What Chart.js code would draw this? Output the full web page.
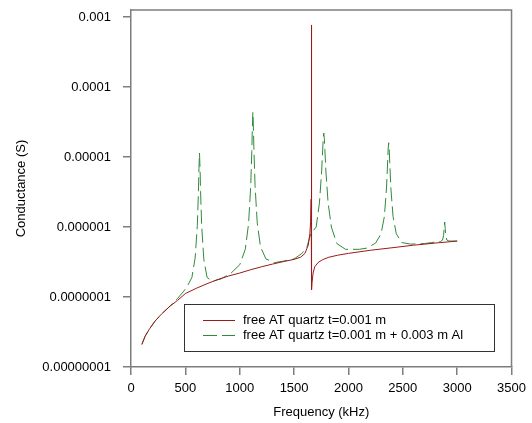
<!DOCTYPE html>
<html>
<head>
<meta charset="utf-8">
<script src="https://cdn.jsdelivr.net/npm/chart.js@4"></script>
<style>
  html, body { margin: 0; padding: 0; background: #ffffff; }
  #wrap { width: 532px; height: 423px; position: relative; }
</style>
</head>
<body>
<div id="wrap"><canvas id="c" width="532" height="423"></canvas></div>
<script>
// ---- data ----
const seriesNames = ["free AT quartz t=0.001 m", "free AT quartz t=0.001 m + 0.003 m Al"];

const quartzFreq = [100, 130, 170, 220, 280, 350, 430, 500, 600, 700, 800, 900, 1000, 1100, 1200, 1300, 1400, 1500, 1560, 1600, 1630, 1645, 1652, 1657, 1660, 1661, 1665, 1675, 1690, 1720, 1760, 1820, 1900, 2000, 2200, 2400, 2600, 2800, 3000];
const quartzG = [2.1e-8, 2.75e-8, 3.5e-8, 4.5e-8, 5.7e-8, 7.2e-8, 9.0e-8, 1.12e-7, 1.33e-7, 1.55e-7, 1.78e-7, 2.0e-7, 2.2e-7, 2.45e-7, 2.7e-7, 2.95e-7, 3.2e-7, 3.45e-7, 3.7e-7, 4.2e-7, 5.5e-7, 8.0e-7, 1.2e-6, 2.5e-6, 7.7e-4, 1.26e-7, 1.6e-7, 2.2e-7, 2.7e-7, 3.1e-7, 3.4e-7, 3.7e-7, 3.95e-7, 4.2e-7, 4.65e-7, 5.05e-7, 5.5e-7, 5.9e-7, 6.3e-7];

const alFreq = [100, 130, 170, 220, 280, 350, 430, 510, 560, 590, 610, 620, 625, 630, 635, 640, 650, 670, 700, 750, 830, 921, 1001, 1051, 1081, 1101, 1111, 1116, 1121, 1126, 1131, 1141, 1161, 1191, 1241, 1321, 1400, 1500, 1573, 1620, 1653, 1680, 1703, 1733, 1753, 1763, 1768, 1773, 1778, 1783, 1793, 1813, 1843, 1893, 1973, 2100, 2170, 2250, 2300, 2330, 2350, 2360, 2365, 2370, 2375, 2380, 2390, 2410, 2440, 2490, 2570, 2700, 2765, 2845, 2865, 2875, 2880, 2885, 2890, 2895, 2905, 2925, 3000];
const alG = [2.1e-8, 2.75e-8, 3.5e-8, 4.5e-8, 5.7e-8, 7.2e-8, 9.6e-8, 1.35e-7, 1.9e-7, 3.6e-7, 1.05e-6, 3.1e-6, 6.8e-6, 1.14e-5, 6.9e-6, 3.2e-6, 1.05e-6, 3.4e-7, 1.9e-7, 1.68e-7, 1.82e-7, 2.2e-7, 2.9e-7, 4.8e-7, 1.1e-6, 3.8e-6, 1.2e-5, 2.6e-5, 4.4e-5, 2.6e-5, 1.2e-5, 3.9e-6, 1.15e-6, 5.2e-7, 3.5e-7, 3.1e-7, 3.25e-7, 3.5e-7, 4.2e-7, 5.3e-7, 8.0e-7, 9.0e-7, 1.0e-6, 2.2e-6, 6.1e-6, 1.27e-5, 1.84e-5, 2.2e-5, 1.84e-5, 1.28e-5, 6.1e-6, 2.2e-6, 1.0e-6, 5.8e-7, 4.8e-7, 4.8e-7, 5.0e-7, 5.9e-7, 8.0e-7, 1.4e-6, 3.6e-6, 8.25e-6, 1.29e-5, 1.6e-5, 1.29e-5, 8.3e-6, 3.6e-6, 1.42e-6, 8.0e-7, 6.0e-7, 5.7e-7, 5.8e-7, 6.0e-7, 6.2e-7, 6.5e-7, 7.6e-7, 9.5e-7, 1.18e-6, 9.5e-7, 7.6e-7, 6.5e-7, 6.3e-7, 6.3e-7];

const yTickValues = [1e-8, 1e-7, 1e-6, 1e-5, 1e-4, 1e-3];
const yTickLabels = ["0.00000001", "0.0000001", "0.000001", "0.00001", "0.0001", "0.001"];
const xTickLabels = ["0", "500", "1000", "1500", "2000", "2500", "3000", "3500"];

// ---- chart ----
const FONT = "'Liberation Sans', Arial, sans-serif";
const AXIS_GREY = '#7d7d7d';
const RED = '#991a1a';
const GREEN = '#2f8a3a';

function zip(xs, ys) { return xs.map((x, i) => ({ x: x, y: ys[i] })); }

const boxAndLegend = {
  id: 'boxAndLegend',
  afterDraw(chart) {
    const { ctx, chartArea: a } = chart;
    ctx.save();
    ctx.strokeStyle = AXIS_GREY;
    ctx.lineWidth = 1.5;
    ctx.beginPath();
    ctx.moveTo(a.left, a.top);
    ctx.lineTo(a.right, a.top);
    ctx.lineTo(a.right, a.bottom);
    ctx.stroke();
    const lx = 184, ly = 304, lw = 310, lh = 47;
    ctx.fillStyle = '#ffffff';
    ctx.fillRect(lx, ly, lw, lh);
    ctx.strokeStyle = '#333333';
    ctx.lineWidth = 1;
    ctx.strokeRect(lx + 0.5, ly + 0.5, lw, lh);
    const rows = [
      { y: 320, color: RED, dash: [] },
      { y: 335, color: GREEN, dash: [14, 5] }
    ];
    ctx.font = '13px ' + FONT;
    ctx.textBaseline = 'middle';
    ctx.textAlign = 'left';
    rows.forEach((r, i) => {
      ctx.strokeStyle = r.color;
      ctx.setLineDash(r.dash);
      ctx.lineWidth = 1;
      ctx.beginPath();
      ctx.moveTo(203, r.y + 0.5);
      ctx.lineTo(235, r.y + 0.5);
      ctx.stroke();
      ctx.setLineDash([]);
      ctx.fillStyle = '#000000';
      ctx.fillText(seriesNames[i], 243, r.y);
    });
    ctx.restore();
  }
};

new Chart(document.getElementById('c'), {
  type: 'line',
  data: {
    datasets: [
      { label: seriesNames[0], data: zip(quartzFreq, quartzG), borderColor: RED, borderWidth: 1, pointRadius: 0, tension: 0, fill: false },
      { label: seriesNames[1], data: zip(alFreq, alG), borderColor: GREEN, borderWidth: 1, borderDash: [14, 5], pointRadius: 0, tension: 0, fill: false }
    ]
  },
  options: {
    responsive: false,
    animation: false,
    devicePixelRatio: 1,
    layout: { padding: { left: 0, right: 20, top: 10, bottom: 0 } },
    plugins: { legend: { display: false }, tooltip: { enabled: false } },
    scales: {
      x: {
        type: 'linear',
        min: 0, max: 3500,
        afterFit(s) { s.height = 56; },
        ticks: {
          stepSize: 500,
          color: '#000000',
          font: { family: FONT, size: 13 },
          padding: 6,
          maxRotation: 0,
          callback: (v, i) => xTickLabels[i]
        },
        grid: { drawOnChartArea: false, drawTicks: true, tickLength: 8, color: AXIS_GREY, lineWidth: 1.5 },
        border: { display: true, color: AXIS_GREY, width: 1.5 },
        title: { display: true, text: 'Frequency (kHz)', color: '#000000', font: { family: FONT, size: 13 }, padding: { top: 0, bottom: 3 } }
      },
      y: {
        type: 'logarithmic',
        min: 1e-8, max: 0.00126,
        afterFit(s) { s.width = 131; s.paddingTop = 0; s.paddingBottom = 0; },
        afterBuildTicks(s) { s.ticks = yTickValues.map(v => ({ value: v })); },
        ticks: {
          color: '#000000',
          font: { family: FONT, size: 13 },
          padding: 12,
          callback: (v, i) => yTickLabels[i]
        },
        grid: { drawOnChartArea: false, drawTicks: true, tickLength: 8, color: AXIS_GREY, lineWidth: 1.5 },
        border: { display: true, color: AXIS_GREY, width: 1.5 },
        title: { display: true, text: 'Conductance (S)', color: '#000000', font: { family: FONT, size: 13 }, padding: { top: 14, bottom: 0 } }
      }
    }
  },
  plugins: [boxAndLegend]
});
</script>
</body>
</html>
